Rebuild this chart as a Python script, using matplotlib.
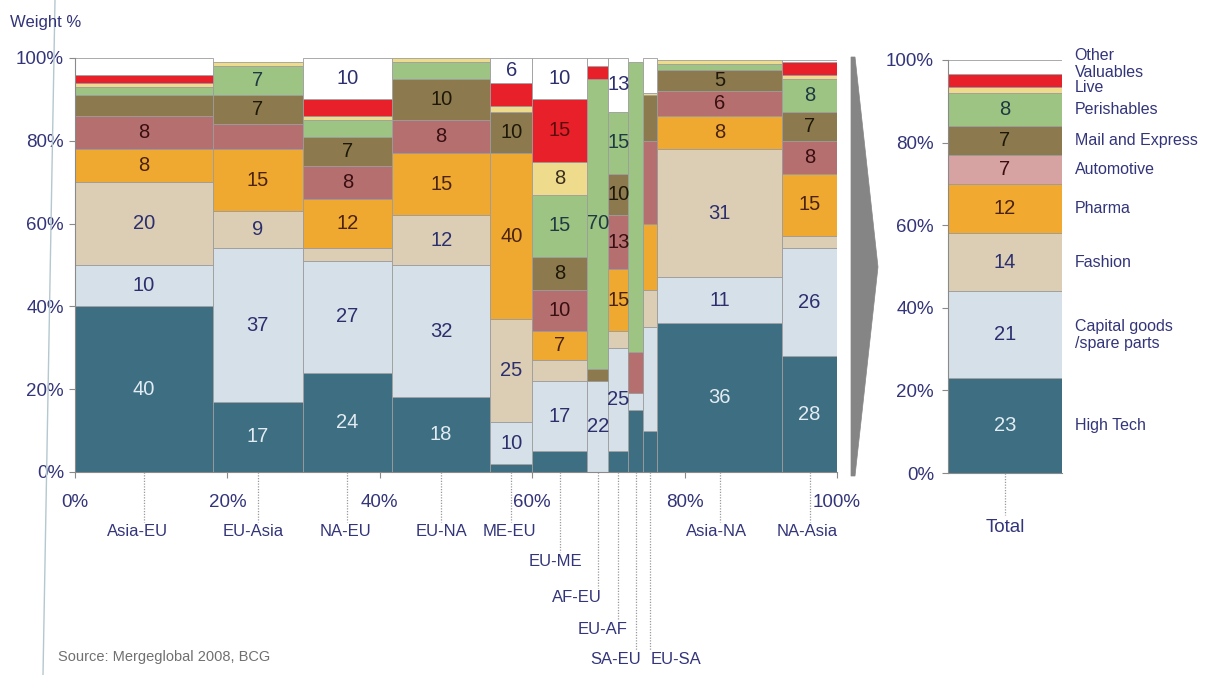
import matplotlib
matplotlib.use('Agg')
import matplotlib.pyplot as plt
from matplotlib.patches import Polygon
from matplotlib.lines import Line2D
from matplotlib.transforms import blended_transform_factory
import numpy as np

plt.rcParams['font.family'] = ['Liberation Sans', 'DejaVu Sans']

# ---------------- data ----------------
routes = ['Asia-EU', 'EU-Asia', 'NA-EU', 'EU-NA', 'ME-EU', 'EU-ME',
          'AF-EU', 'EU-AF', 'SA-EU', 'EU-SA', 'Asia-NA', 'NA-Asia']
route_share = [18.1, 11.8, 11.7, 12.9, 5.5, 7.2, 2.8, 2.6, 2.0, 1.8, 16.4, 7.2]

categories = ['High Tech', 'Capital goods\n/spare parts', 'Fashion', 'Pharma',
              'Automotive', 'Mail and Express', 'Perishables', 'Live',
              'Valuables', 'Other']

high_tech   = [40, 17, 24, 18, 2, 5, 0, 5, 15, 10, 36, 28]
capital     = [10, 37, 27, 32, 10, 17, 22, 25, 4, 25, 11, 26]
fashion     = [20, 9, 3, 12, 25, 5, 0, 4, 0, 9, 31, 3]
pharma      = [8, 15, 12, 15, 40, 7, 0, 15, 0, 16, 8, 15]
automotive  = [8, 6, 8, 8, 0, 10, 0, 13, 10, 20, 6, 8]
mail        = [5, 7, 7, 10, 10, 8, 3, 10, 0, 11, 5, 7]
perishables = [2, 7, 4, 4, 0, 15, 70, 15, 70, 0, 1.5, 8]
live        = [1, 1, 1, 1, 1.5, 8, 0, 0, 0, 0.5, 1, 1]
valuables   = [2, 0, 4, 0, 5.5, 15, 3, 0, 0, 0, 0, 3]
other       = [4, 0, 10, 0, 6, 10, 2, 13, 0, 8.5, 0, 0.5]

total = [23, 21, 14, 12, 7, 7, 8, 1.5, 3, 3.5]

# which segments carry a printed value
show_high_tech   = [1, 1, 1, 1, 0, 0, 0, 0, 0, 0, 1, 1]
show_capital     = [1, 1, 1, 1, 1, 1, 1, 1, 0, 0, 1, 1]
show_fashion     = [1, 1, 0, 1, 1, 0, 0, 0, 0, 0, 1, 0]
show_pharma      = [1, 1, 1, 1, 1, 1, 0, 1, 0, 0, 1, 1]
show_automotive  = [1, 0, 1, 1, 0, 1, 0, 1, 0, 0, 1, 1]
show_mail        = [0, 1, 1, 1, 1, 1, 0, 1, 0, 0, 1, 1]
show_perishables = [0, 1, 0, 0, 0, 1, 1, 1, 0, 0, 0, 1]
show_live        = [0, 0, 0, 0, 0, 1, 0, 0, 0, 0, 0, 0]
show_valuables   = [0, 0, 0, 0, 0, 1, 0, 0, 0, 0, 0, 0]
show_other       = [0, 0, 1, 0, 1, 1, 0, 1, 0, 0, 0, 0]
show_total       = [1, 1, 1, 1, 1, 1, 1, 0, 0, 0]

series = [high_tech, capital, fashion, pharma, automotive, mail,
          perishables, live, valuables, other]
shows = [show_high_tech, show_capital, show_fashion, show_pharma,
         show_automotive, show_mail, show_perishables, show_live,
         show_valuables, show_other]

# ---------------- style ----------------
colors = ['#3d6e82', '#d5e0e8', '#dccdb5', '#f0a930', '#b46f6e',
          '#8c7a4e', '#9dc483', '#eedc8c', '#e8202a', '#ffffff']
total_colors = ['#3d6e82', '#d5e0e8', '#dccdb5', '#f2a92f', '#d6a2a2',
                '#8c7a4e', '#9dc483', '#eedc8c', '#e8202a', '#ffffff']
text_colors = ['#e2ecf2', '#2c2f6e', '#2c2f6e', '#4a2210', '#3a0f12',
               '#1e1808', '#1f3a42', '#3a3020', '#5a0c0c', '#2c2f6e']
navy = '#33357a'
edge = '#9c9c9c'
NUM_FS = 14.5

W, H = 1211, 675
fig = plt.figure(figsize=(W / 100, H / 100), dpi=100)
fig.patch.set_facecolor('white')


def fx(px):
    return px / W


def fy(py):
    return 1 - py / H


def fmt(v):
    return str(int(v)) if float(v).is_integer() else str(v)


# ---------------- main marimekko ----------------
ax_top, ax_bot = 58, 472
ax = fig.add_axes([fx(75), fy(ax_bot), (837 - 75) / W, (ax_bot - ax_top) / H])
ax.set_xlim(0, 100)
ax.set_ylim(0, 100)

widths = np.array(route_share)
lefts = np.concatenate([[0], np.cumsum(widths)[:-1]])
centers = lefts + widths / 2
bottom = np.zeros(len(routes))

for vals, sh, col, tcol in zip(series, shows, colors, text_colors):
    vals = np.array(vals, dtype=float)
    idx = np.where(vals > 0)[0]
    ax.bar(lefts[idx], vals[idx], width=widths[idx], bottom=bottom[idx],
           align='edge', color=col, edgecolor=edge, linewidth=0.6, zorder=2)
    for i in idx:
        if sh[i]:
            ax.text(centers[i], bottom[i] + vals[i] / 2, fmt(vals[i]),
                    ha='center', va='center', fontsize=NUM_FS, color=tcol,
                    zorder=5, clip_on=False)
    bottom += vals

for s in ['top', 'right']:
    ax.spines[s].set_visible(False)
for s in ['left', 'bottom']:
    ax.spines[s].set_color('#8a8a8a')
    ax.spines[s].set_linewidth(0.8)

ax.set_yticks([0, 20, 40, 60, 80, 100])
ax.set_yticklabels(['0%', '20%', '40%', '60%', '80%', '100%'])
ax.set_xticks([0, 20, 40, 60, 80, 100])
ax.set_xticklabels(['0%', '20%', '40%', '60%', '80%', '100%'])
ax.tick_params(axis='y', length=4, color='#8a8a8a', labelsize=13.5,
               labelcolor=navy, pad=4)
ax.tick_params(axis='x', length=4, color='#8a8a8a', labelsize=13.5,
               labelcolor=navy, pad=12)

# route labels with dotted leaders
ax_h = ax_bot - ax_top
label_row_px = [532, 532, 532, 532, 532, 562, 598, 630, 660, 660, 532, 532]
label_ha = ['center'] * 6 + ['right', 'right', 'right', 'left', 'center', 'center']
label_dx_px = [-6, -5, -2, 0, -2, -4, 4, 9, 5, 0, -3, -2]
trans = ax.get_xaxis_transform()
px_per_unit = (837 - 75) / 100
for i, r in enumerate(routes):
    ly = (ax_bot - label_row_px[i]) / ax_h
    lend = (ax_bot - (label_row_px[i] - 10)) / ax_h
    ax.plot([centers[i], centers[i]], [0, lend], transform=trans,
            color='#9a9a9a', lw=0.9, ls=(0, (1, 1.2)), clip_on=False, zorder=1)
    ax.text(centers[i] + label_dx_px[i] / px_per_unit, ly, r, transform=trans,
            ha=label_ha[i], va='center', fontsize=12, color=navy)

# ---------------- total bar ----------------
t_top, t_bot = 60, 473
ax2 = fig.add_axes([fx(948), fy(t_bot), (1062 - 948) / W, (t_bot - t_top) / H])
ax2.set_xlim(-0.5, 0.5)
ax2.set_ylim(0, 100)
tb = 0.0
legend_dy = [0, 0, 0, 0, 0, 0, 0, 0.5, 2.0, 2.9]
ltrans = blended_transform_factory(ax2.transAxes, ax2.transData)
for k, (v, col, tcol) in enumerate(zip(total, total_colors, text_colors)):
    ax2.bar(0, v, width=1.0, bottom=tb, color=col, edgecolor=edge,
            linewidth=0.6, zorder=2)
    if show_total[k]:
        ax2.text(0, tb + v / 2, fmt(v), ha='center', va='center',
                 fontsize=NUM_FS, color=tcol, zorder=5)
    ax2.text(1.11, tb + v / 2 + legend_dy[k], categories[k], transform=ltrans,
             ha='left', va='center', fontsize=11.5, color=navy,
             linespacing=1.15)
    tb += v

for s in ['top', 'right']:
    ax2.spines[s].set_visible(False)
for s in ['left', 'bottom']:
    ax2.spines[s].set_color('#8a8a8a')
    ax2.spines[s].set_linewidth(0.8)
ax2.set_yticks([0, 20, 40, 60, 80, 100])
ax2.set_yticklabels(['0%', '20%', '40%', '60%', '80%', '100%'])
ax2.set_xticks([])
ax2.tick_params(axis='y', length=4, color='#8a8a8a', labelsize=13.5,
                labelcolor=navy, pad=6)
t_trans = ax2.get_xaxis_transform()
t_h = t_bot - t_top
ax2.plot([0, 0], [0, (t_bot - 515) / t_h], transform=t_trans, color='#9a9a9a',
         lw=0.9, ls=(0, (1, 1.2)), clip_on=False)
ax2.text(0, (t_bot - 528) / t_h, 'Total', transform=t_trans, ha='center',
         va='center', fontsize=13.5, color=navy)

# ---------------- decorations ----------------
arrow = Polygon([(fx(851), fy(57)), (fx(855), fy(57)), (fx(878), fy(267)),
                 (fx(855), fy(476)), (fx(851), fy(476))],
                closed=True, transform=fig.transFigure, facecolor='#858585',
                edgecolor='#858585', lw=0.5)
fig.patches.append(arrow)

fig.add_artist(Line2D([fx(55), fx(43)], [fy(0), fy(675)],
                      transform=fig.transFigure, color='#b4c8d0', lw=1.0))

fig.text(fx(10), fy(23), 'Weight %', ha='left', va='center', fontsize=12,
         color=navy)
fig.text(fx(58), fy(657), 'Source: Mergeglobal 2008, BCG', ha='left',
         va='center', fontsize=10.5, color='#707070')

fig.savefig('out.png', dpi=100, facecolor='white')
